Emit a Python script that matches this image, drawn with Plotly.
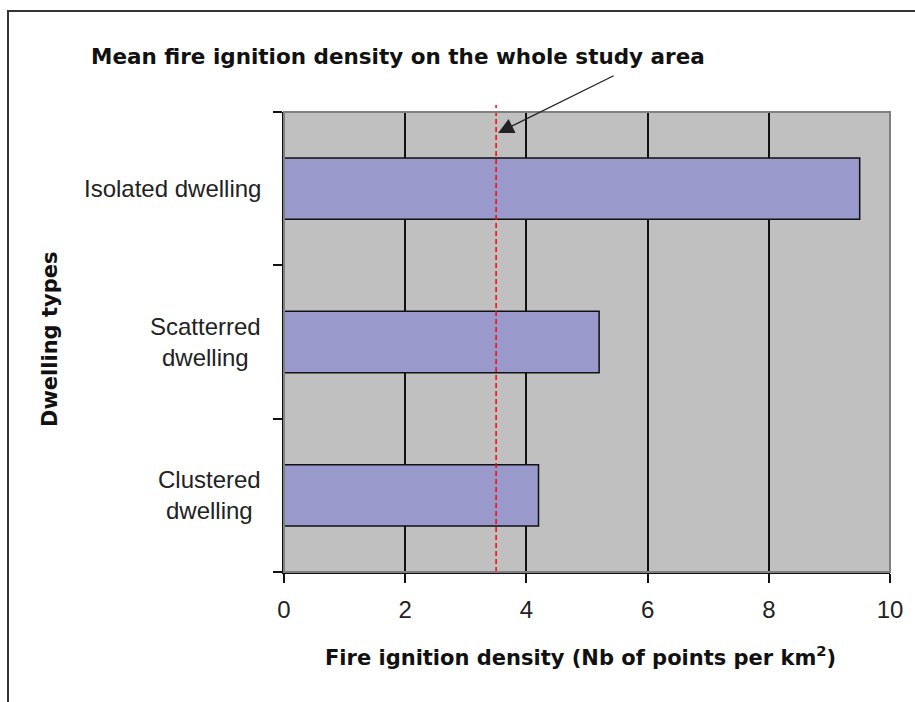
import plotly.graph_objects as go

# ---- data ----
categories = ["Clustered dwelling", "Scatterred dwelling", "Isolated dwelling"]
category_labels = ["Clustered<br>dwelling", "Scatterred<br>dwelling", "Isolated dwelling"]
densities = [4.2, 5.2, 9.5]
mean_density = 3.5
x_tick_values = [0, 2, 4, 6, 8, 10]
x_tick_labels = ["0", "2", "4", "6", "8", "10"]

title_text = "Mean fire ignition density on the whole study area"
x_title = "Fire ignition density (Nb of points per km<sup>2</sup>)"
y_title = "Dwelling types"

W, H = 915, 702
L, R, T, B = 284, 25, 112, 130
pw, ph = W - L - R, H - T - B


def px_x(p):
    return (p - L) / pw


def px_y(p):
    return (H - B - p) / ph


tick_font = dict(family="Liberation Sans, Arial, sans-serif", size=24, color="#222222")
bold_font = dict(family="DejaVu Sans, Verdana, sans-serif", size=21, color="#111111", weight="bold")
title_font = dict(family="DejaVu Sans, Verdana, sans-serif", size=21.5, color="#111111", weight="bold")

fig = go.Figure()
fig.add_trace(go.Bar(
    x=densities, y=categories, orientation="h",
    marker=dict(color="#9999CC", line=dict(color="#111111", width=1.5)),
    showlegend=False, hoverinfo="x+y",
))

# mean line
fig.add_shape(type="line", xref="x", yref="paper", x0=mean_density, x1=mean_density,
              y0=0, y1=px_y(105), line=dict(color="#FF0000", width=1.5, dash="5px,3px"),
              layer="above")

# plot border (grey, top/right)
fig.add_shape(type="rect", xref="paper", yref="paper", x0=0, x1=1, y0=0, y1=1,
              line=dict(color="#808080", width=2), layer="above")
# outer frame
fig.add_shape(type="rect", xref="paper", yref="paper", x0=px_x(8), x1=px_x(930),
              y0=px_y(720), y1=px_y(11), line=dict(color="#333333", width=2), layer="above")

annotations = []
# category labels (centered lines, right aligned block)
for cat, lab in zip(categories, category_labels):
    annotations.append(dict(x=px_x(263), y=cat, xref="paper", yref="y", text=lab,
                            showarrow=False, xanchor="right", yanchor="middle",
                            align="center", font=tick_font))
# chart title-like label with arrow
annotations.append(dict(x=px_x(89), y=px_y(57), xref="paper", yref="paper", text=title_text,
                        showarrow=False, xanchor="left", yanchor="middle", font=title_font))
annotations.append(dict(x=mean_density + 2 / 60.6, y=px_y(133), xref="x", yref="paper",
                        ax=117, ay=-58, text="", showarrow=True, arrowhead=2,
                        arrowsize=2.4, arrowwidth=1.3, arrowcolor="#222222"))
# axis titles
annotations.append(dict(x=px_x(580), y=px_y(656), xref="paper", yref="paper", text=x_title,
                        showarrow=False, xanchor="center", yanchor="middle", font=bold_font))
annotations.append(dict(x=px_x(50), y=px_y(340), xref="paper", yref="paper", text=y_title,
                        showarrow=False, xanchor="center", yanchor="middle", textangle=-90,
                        font=bold_font))

fig.update_layout(
    width=W, height=H,
    margin=dict(l=L, r=R, t=T, b=B),
    paper_bgcolor="#FFFFFF", plot_bgcolor="#C0C0C0",
    bargap=0.6,
    annotations=annotations,
    xaxis=dict(range=[0, 10], tickvals=x_tick_values, ticktext=x_tick_labels,
               showgrid=True, gridcolor="#111111", gridwidth=1.5, zeroline=False,
               showline=True, linecolor="#111111", linewidth=2,
               ticks="outside", ticklen=9, tickwidth=1.5, tickcolor="#111111",
               tickfont=tick_font, ticklabelstandoff=6),
    yaxis=dict(range=[-0.5, 2.5], categoryorder="array", categoryarray=categories,
               showticklabels=False, showgrid=False, zeroline=False,
               showline=True, linecolor="#111111", linewidth=2,
               ticks="outside", tickson="boundaries", ticklen=9, tickwidth=1.5,
               tickcolor="#111111"),
)

fig.write_html(
    "out.html",
    config={"displayModeBar": False},
    post_script="document.body.style.margin='0';document.body.style.overflow='hidden';",
)
